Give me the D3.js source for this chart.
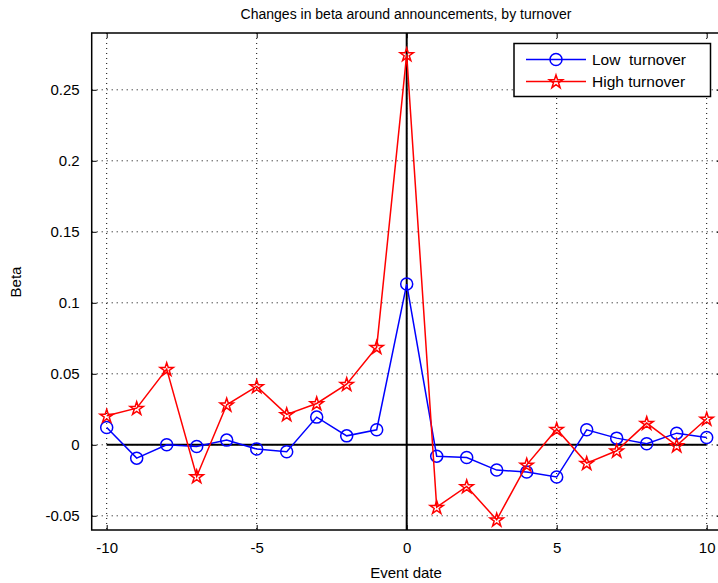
<!DOCTYPE html>
<html><head><meta charset="utf-8">
<script src="https://cdn.jsdelivr.net/npm/d3@7"></script>
<style>body{margin:0;background:#fff}svg{display:block}text{font-family:"Liberation Sans",Arial,sans-serif}</style>
</head><body><svg id="c" width="718" height="583"></svg>
<script>
const eventDates = [-10,-9,-8,-7,-6,-5,-4,-3,-2,-1,0,1,2,3,4,5,6,7,8,9,10];
const lowTurnover = [0.0122,-0.0094,0.0000,-0.0012,0.0033,-0.0030,-0.0049,0.0195,0.0063,0.0106,0.1132,-0.0080,-0.0089,-0.0178,-0.0192,-0.0227,0.0106,0.0047,0.0007,0.0082,0.0052];
const highTurnover = [0.0204,0.0258,0.0533,-0.0223,0.0282,0.0411,0.0214,0.0291,0.0427,0.0688,0.2749,-0.0439,-0.0293,-0.0528,-0.0141,0.0110,-0.0129,-0.0042,0.0153,-0.0005,0.0183];
const xTicks = [-10,-5,0,5,10];
const yTicks = [-0.05,0,0.05,0.1,0.15,0.2,0.25];
const seriesNames = ["Low  turnover","High turnover"];
const seriesColors = ["#0000ff","#ff0000"];

const svg = d3.select("#c");
const L=91.7, R=721.7, T=33, B=530;
const x = d3.scaleLinear().domain([-10.5,10.5]).range([L,R]);
const y = d3.scaleLinear().domain([-0.06,0.29]).range([B,T]);

// grid
const g = svg.append("g");
xTicks.forEach(t=>{
  g.append("line").attr("x1",x(t)).attr("x2",x(t)).attr("y1",T).attr("y2",B)
   .attr("stroke","#000").attr("stroke-width",1).attr("stroke-dasharray","1,4");
});
yTicks.forEach(t=>{
  g.append("line").attr("x1",L).attr("x2",R).attr("y1",y(t)).attr("y2",y(t))
   .attr("stroke","#000").attr("stroke-width",1).attr("stroke-dasharray","1,4");
});

// axes with inward ticks
const fmt = d=> (d===0?"0":String(d));
svg.append("g").attr("transform",`translate(0,${B})`)
  .call(d3.axisBottom(x).tickValues(xTicks).tickSize(-5).tickPadding(12).tickFormat(fmt))
  .call(a=>{a.select(".domain").remove();a.selectAll("text").attr("font-size",15).attr("fill","#000").attr("font-family","Liberation Sans, Arial, sans-serif");});
svg.append("g").attr("transform",`translate(0,${T})`)
  .call(d3.axisTop(x).tickValues(xTicks).tickSize(-5).tickFormat(""))
  .call(a=>a.select(".domain").remove());
svg.append("g").attr("transform",`translate(${L},0)`)
  .call(d3.axisLeft(y).tickValues(yTicks).tickSize(-5).tickPadding(12).tickFormat(fmt))
  .call(a=>{a.select(".domain").remove();a.selectAll("text").attr("font-size",15).attr("fill","#000").attr("font-family","Liberation Sans, Arial, sans-serif");});
svg.append("g").attr("transform",`translate(${R},0)`)
  .call(d3.axisRight(y).tickValues(yTicks).tickSize(-5).tickFormat(""))
  .call(a=>a.select(".domain").remove());

svg.append("rect").attr("x",L).attr("y",T).attr("width",R-L).attr("height",B-T)
  .attr("fill","none").attr("stroke","#000").attr("stroke-width",1.5);

// reference lines
svg.append("line").attr("x1",x(-10)).attr("x2",x(10)).attr("y1",y(0)).attr("y2",y(0)).attr("stroke","#000").attr("stroke-width",2);
svg.append("line").attr("x1",x(0)).attr("x2",x(0)).attr("y1",T).attr("y2",B).attr("stroke","#000").attr("stroke-width",2);

const line = d3.line().x((d,i)=>x(eventDates[i])).y(d=>y(d));
const star = d3.symbol().type(d3.symbolStar).size(55);

function drawCircle(sel,cx,cy,c){sel.append("circle").attr("cx",cx).attr("cy",cy).attr("r",6).attr("fill","none").attr("stroke",c).attr("stroke-width",1.5);}
function drawStar(sel,cx,cy,c){sel.append("path").attr("d",star()).attr("transform",`translate(${cx},${cy+0.5})`).attr("fill","none").attr("stroke",c).attr("stroke-width",1.5);}

// low
svg.append("path").datum(lowTurnover).attr("d",line).attr("fill","none").attr("stroke",seriesColors[0]).attr("stroke-width",1.5);
const gl = svg.append("g");
lowTurnover.forEach((v,i)=>drawCircle(gl,x(eventDates[i]),y(v),seriesColors[0]));
// high
svg.append("path").datum(highTurnover).attr("d",line).attr("fill","none").attr("stroke",seriesColors[1]).attr("stroke-width",1.5);
const gh = svg.append("g");
highTurnover.forEach((v,i)=>drawStar(gh,x(eventDates[i]),y(v),seriesColors[1]));

// legend
const lg = svg.append("g");
lg.append("rect").attr("x",514).attr("y",43.5).attr("width",196.5).attr("height",53).attr("fill","#fff").attr("stroke","#000").attr("stroke-width",1.5);
[59.5,81.5].forEach((ly,i)=>{
  lg.append("line").attr("x1",526).attr("x2",586).attr("y1",ly).attr("y2",ly).attr("stroke",seriesColors[i]).attr("stroke-width",1.5);
  if(i===0) drawCircle(lg,556,ly,seriesColors[0]); else drawStar(lg,556,ly,seriesColors[1]);
  lg.append("text").attr("x",592).attr("y",ly+5.5).attr("font-size",15.5).attr("xml:space","preserve").style("white-space","pre").text(seriesNames[i]);
});

// labels
svg.append("text").attr("x",406).attr("y",19).attr("text-anchor","middle").attr("font-size",14).text("Changes in beta around announcements, by turnover");
svg.append("text").attr("x",406).attr("y",578).attr("text-anchor","middle").attr("font-size",15).text("Event date");
svg.append("text").attr("transform","translate(21,282) rotate(-90)").attr("text-anchor","middle").attr("font-size",15).text("Beta");
</script></body></html>
